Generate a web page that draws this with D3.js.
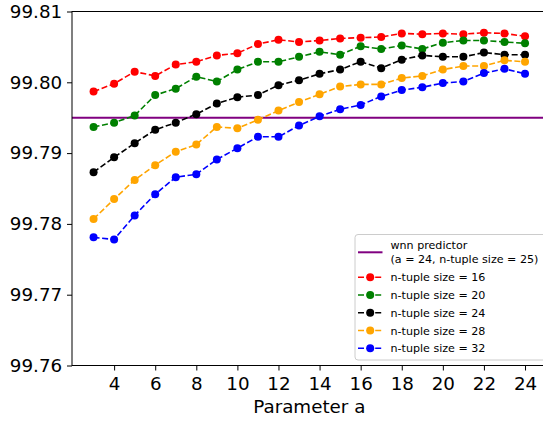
<!DOCTYPE html>
<html>
<head>
<meta charset="utf-8">
<script src="https://cdn.jsdelivr.net/npm/d3@7"></script>
<style>
  html, body { margin: 0; padding: 0; background: #fff; }
  svg { display: block; font-family: "DejaVu Sans", sans-serif; }
</style>
</head>
<body>
<div id="chart"></div>
<script>
// Parameter a on the x axis
const A_VALUES = [3, 4, 5, 6, 7, 8, 9, 10, 11, 12, 13, 14, 15, 16, 17, 18, 19, 20, 21, 22, 23, 24];

// accuracy (%) per n-tuple size
const SIZE_16 = [99.7987, 99.7998, 99.8015, 99.8009, 99.8025, 99.8029, 99.8038, 99.8041, 99.8054, 99.8060, 99.8057,
                 99.8059, 99.8062, 99.8063, 99.8064, 99.8069, 99.8068, 99.8069, 99.8068, 99.8070, 99.8069, 99.8065];
const SIZE_20 = [99.7937, 99.7943, 99.7953, 99.7982, 99.7991, 99.8008, 99.8001, 99.8018, 99.8029, 99.8029, 99.8036,
                 99.8043, 99.8039, 99.8051, 99.8047, 99.8052, 99.8047, 99.8056, 99.8059, 99.8059, 99.8057, 99.8055];
const SIZE_24 = [99.7873, 99.7894, 99.7914, 99.7933, 99.7943, 99.7955, 99.7970, 99.7979, 99.7982, 99.7996, 99.8003,
                 99.8012, 99.8018, 99.8029, 99.8020, 99.8032, 99.8038, 99.8036, 99.8036, 99.8042, 99.8039, 99.8039];
const SIZE_28 = [99.7807, 99.7835, 99.7862, 99.7883, 99.7902, 99.7912, 99.7937, 99.7935, 99.7947, 99.7960, 99.7972,
                 99.7983, 99.7994, 99.7997, 99.7997, 99.8006, 99.8009, 99.8018, 99.8023, 99.8023, 99.8031, 99.8029];
const SIZE_32 = [99.7781, 99.7778, 99.7812, 99.7842, 99.7866, 99.7870, 99.7891, 99.7907, 99.7923, 99.7923, 99.7939,
                 99.7952, 99.7962, 99.7968, 99.7980, 99.7989, 99.7993, 99.7999, 99.8001, 99.8013, 99.8019, 99.8012];

const WNN_VALUE = 99.795;
const WNN_LABEL = ['wnn predictor', '(a = 24, n-tuple size = 25)'];

const SERIES_NAMES  = ['n-tuple size = 16', 'n-tuple size = 20', 'n-tuple size = 24', 'n-tuple size = 28', 'n-tuple size = 32'];
const SERIES_VALUES = [SIZE_16, SIZE_20, SIZE_24, SIZE_28, SIZE_32];
const SERIES_COLORS = ['#ff0000', '#008000', '#000000', '#ffa500', '#0000ff'];

const X_TICKS = [4, 6, 8, 10, 12, 14, 16, 18, 20, 22, 24];
const Y_TICKS = [99.76, 99.77, 99.78, 99.79, 99.80, 99.81];
const X_LABEL = 'Parameter a';

(function () {
    const width = 543, height = 424;
    const left = 72, top = 11.5, bottom = 365.5, right = 546.6;

    const svg = d3.select('#chart').append('svg')
        .attr('width', width).attr('height', height)
        .attr('viewBox', `0 0 ${width} ${height}`);

    const x = d3.scaleLinear().domain([1.95, 25.05]).range([left, right]);
    const y = d3.scaleLinear().domain([99.76, 99.81]).range([bottom, top]);

    // clip for data marks
    svg.append('clipPath').attr('id', 'plotclip')
        .append('rect').attr('x', left).attr('y', top)
        .attr('width', right - left).attr('height', bottom - top);

    const plot = svg.append('g').attr('clip-path', 'url(#plotclip)');

    // wnn predictor reference line
    plot.append('line')
        .attr('x1', left).attr('x2', right)
        .attr('y1', y(WNN_VALUE)).attr('y2', y(WNN_VALUE))
        .attr('stroke', '#800080').attr('stroke-width', 2);

    const line = d3.line().x((d, i) => x(A_VALUES[i])).y(d => y(d));

    SERIES_VALUES.forEach((vals, k) => {
        const color = SERIES_COLORS[k];
        plot.append('path')
            .datum(vals)
            .attr('fill', 'none')
            .attr('stroke', color)
            .attr('stroke-width', 1.6)
            .attr('stroke-dasharray', '6,2.6')
            .attr('d', line);
        plot.selectAll(null).data(vals).enter().append('circle')
            .attr('cx', (d, i) => x(A_VALUES[i]))
            .attr('cy', d => y(d))
            .attr('r', 4)
            .attr('fill', color);
    });

    // axes
    const xAxis = svg.append('g').attr('transform', `translate(0,${bottom})`)
        .call(d3.axisBottom(x).tickValues(X_TICKS).tickSize(5).tickPadding(6.8).tickFormat(d3.format('d')));
    const yAxis = svg.append('g').attr('transform', `translate(${left},0)`)
        .call(d3.axisLeft(y).tickValues(Y_TICKS).tickSize(5).tickPadding(4.8).tickFormat(d3.format('.2f')));

    [xAxis, yAxis].forEach(ax => {
        ax.select('.domain').remove();
        ax.selectAll('.tick line').attr('stroke', '#000').attr('stroke-width', 1);
        ax.selectAll('.tick text').attr('fill', '#000')
            .attr('font-size', '18.3px').attr('font-family', '"DejaVu Sans", sans-serif');
    });

    // spines
    svg.append('rect')
        .attr('x', left).attr('y', top)
        .attr('width', right - left).attr('height', bottom - top)
        .attr('fill', 'none').attr('stroke', '#000').attr('stroke-width', 1);

    // x label
    svg.append('text')
        .attr('x', (left + right) / 2).attr('y', 412.5)
        .attr('text-anchor', 'middle')
        .attr('font-size', '18.3px').attr('fill', '#000')
        .text(X_LABEL);

    // Legend
    const lg = svg.append('g').attr('font-size', '11.1px');
    lg.append('rect')
        .attr('x', 355).attr('y', 234.5).attr('width', 192).attr('height', 125.5)
        .attr('rx', 3).attr('ry', 3)
        .attr('fill', 'rgba(255,255,255,0.8)').attr('stroke', '#cccccc').attr('stroke-width', 1);

    lg.append('line').attr('x1', 358).attr('x2', 382.5).attr('y1', 252.3).attr('y2', 252.3)
        .attr('stroke', '#800080').attr('stroke-width', 2);
    lg.append('text').attr('x', 390.5).attr('y', 249).text(WNN_LABEL[0]);
    lg.append('text').attr('x', 390.5).attr('y', 263.3).text(WNN_LABEL[1]);

    SERIES_NAMES.forEach((name, k) => {
        const cy = 277.3 + k * 17.75;
        const color = SERIES_COLORS[k];
        lg.append('line').attr('x1', 358).attr('x2', 382.5).attr('y1', cy).attr('y2', cy)
            .attr('stroke', color).attr('stroke-width', 1.6).attr('stroke-dasharray', '6,2.6');
        lg.append('circle').attr('cx', 370.2).attr('cy', cy).attr('r', 4).attr('fill', color);
        lg.append('text').attr('x', 390.5).attr('y', cy + 4).text(name);
    });
})();
</script>
</body>
</html>
